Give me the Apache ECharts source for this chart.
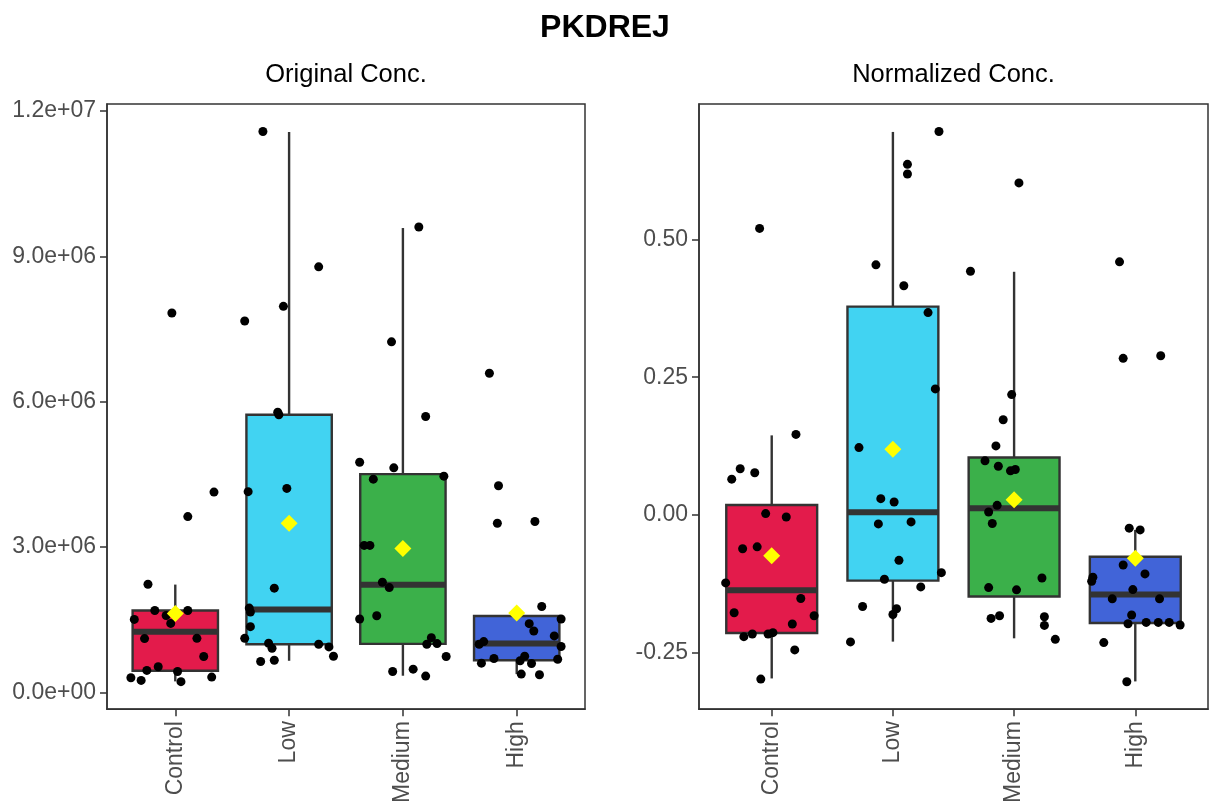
<!DOCTYPE html>
<html>
<head>
<meta charset="utf-8">
<script src="https://cdn.jsdelivr.net/npm/echarts@6/dist/echarts.min.js"></script>
<style>html,body{margin:0;padding:0;background:#fff;}#chart{width:1210px;height:806px;}</style>
</head>
<body>
<div id="chart"></div>
<script>
// ---------------- DATA ----------------
const categories = ['Control', 'Low', 'Medium', 'High'];
const mainTitle = 'PKDREJ';
const leftTitle = 'Original Conc.';
const rightTitle = 'Normalized Conc.';
const leftTicks = [0, 3e6, 6e6, 9e6, 12e6];
const rightTicks = [-0.25, 0, 0.25, 0.5];

// Original concentration: individual points
const origControl = [7.83e6, 4.133e6, 3.628e6, 2.232e6, 1.69e6, 1.69e6, 1.587e6, 1.423e6, 1.505e6, 1.109e6, 1.115e6, 0.739e6, 0.528e6, 0.452e6, 0.431e6, 0.302e6, 0.246e6, 0.22e6, 0.314e6];
const origControlJitter = [-0.03, 0.34, 0.11, -0.24, -0.18, 0.11, -0.08, -0.04, -0.36, -0.27, 0.19, 0.25, -0.15, -0.25, 0.02, -0.39, -0.30, 0.05, 0.32];
const origLow = [11.575e6, 8.782e6, 7.967e6, 7.665e6, 5.78e6, 5.729e6, 4.209e6, 4.142e6, 2.15e6, 1.739e6, 1.657e6, 1.355e6, 1.115e6, 1.012e6, 0.91e6, 0.992e6, 0.938e6, 0.745e6, 0.637e6, 0.663e6];
const origLowJitter = [-0.23, 0.26, -0.05, -0.39, -0.10, -0.09, -0.02, -0.36, -0.13, -0.35, -0.34, -0.34, -0.39, -0.18, -0.15, 0.26, 0.35, 0.39, -0.25, -0.13];
const origMedium = [9.604e6, 7.234e6, 5.694e6, 4.749e6, 4.634e6, 4.4e6, 4.462e6, 3.033e6, 3.033e6, 2.273e6, 2.162e6, 1.513e6, 1.581e6, 1.129e6, 0.992e6, 1.006e6, 0.739e6, 0.431e6, 0.478e6, 0.335e6];
const origMediumJitter = [0.14, -0.10, 0.20, -0.38, -0.08, -0.26, 0.36, -0.34, -0.29, -0.18, -0.12, -0.38, -0.23, 0.25, 0.21, 0.30, 0.38, -0.09, 0.09, 0.20];
const origHigh = [6.585e6, 4.265e6, 3.491e6, 3.526e6, 1.772e6, 1.417e6, 1.267e6, 1.513e6, 1.164e6, 0.992e6, 1.047e6, 0.945e6, 0.698e6, 0.602e6, 0.651e6, 0.745e6, 0.595e6, 0.684e6, 0.376e6, 0.363e6];
const origHighJitter = [-0.24, -0.16, -0.17, 0.16, 0.22, 0.11, 0.15, 0.39, 0.33, -0.33, -0.29, 0.39, -0.20, -0.31, 0.03, 0.07, 0.13, 0.36, 0.04, 0.20];

// Original concentration: box statistics [lower whisker, Q1, median, Q3, upper whisker]
const origBoxControl = [0.226e6, 0.446e6, 1.253e6, 1.69e6, 2.224e6];
const origBoxLow = [0.651e6, 0.992e6, 1.71e6, 5.729e6, 11.567e6];
const origBoxMedium = [0.343e6, 1.0e6, 2.218e6, 4.503e6, 9.583e6];
const origBoxHigh = [0.376e6, 0.663e6, 1.006e6, 1.575e6, 1.772e6];
const origMeans = [1.628e6, 3.491e6, 2.971e6, 1.637e6];

// Normalized concentration: individual points
const normControl = [0.5199, 0.1462, 0.0838, 0.065, 0.0765, 0.0025, -0.0036, -0.0614, -0.0578, -0.1233, -0.1516, -0.1774, -0.1829, -0.1978, -0.2208, -0.2159, -0.2159, -0.2135, -0.2448, -0.2978];
const normControlJitter = [-0.10, 0.20, -0.26, -0.33, -0.14, -0.05, 0.12, -0.24, -0.12, -0.38, 0.24, -0.31, 0.35, 0.17, -0.23, -0.16, -0.03, 0.01, 0.19, -0.09];
const normLow = [0.6957, 0.6361, 0.6186, 0.4538, 0.4159, 0.3671, 0.2287, 0.1222, 0.0296, 0.0235, -0.0162, -0.0126, -0.0823, -0.1047, -0.1166, -0.1305, -0.1661, -0.1702, -0.1805, -0.2303];
const normLowJitter = [0.38, 0.12, 0.12, -0.14, 0.09, 0.29, 0.35, -0.28, -0.10, 0.01, -0.12, 0.15, 0.05, 0.40, -0.07, 0.23, -0.25, 0.03, 0.00, -0.35];
const normMedium = [0.6024, 0.4422, 0.2184, 0.1727, 0.1253, 0.0982, 0.0884, 0.0801, 0.0825, 0.0175, 0.0054, -0.0155, -0.1143, -0.1318, -0.1359, -0.1877, -0.1829, -0.1847, -0.2004, -0.2256];
const normMediumJitter = [0.04, -0.36, -0.02, -0.09, -0.15, -0.24, -0.13, -0.03, 0.01, -0.14, -0.21, -0.18, 0.23, -0.21, 0.02, -0.19, -0.12, 0.25, 0.25, 0.34];
const normHigh = [0.4592, 0.2841, 0.2888, -0.024, -0.0271, -0.0908, -0.107, -0.113, -0.1202, -0.1354, -0.1522, -0.1522, -0.1816, -0.1973, -0.1949, -0.1949, -0.1949, -0.1996, -0.2316, -0.3025];
const normHighJitter = [-0.13, -0.10, 0.21, -0.05, 0.04, -0.10, 0.08, -0.35, -0.36, -0.02, -0.19, 0.20, -0.03, -0.06, 0.09, 0.19, 0.28, 0.37, -0.26, -0.07];

// Normalized concentration: box statistics
const normBoxControl = [-0.2966, -0.2141, -0.1365, 0.0181, 0.1444];
const normBoxLow = [-0.2298, -0.1191, 0.0049, 0.378, 0.6949];
const normBoxMedium = [-0.2238, -0.148, 0.0121, 0.1042, 0.4412];
const normBoxHigh = [-0.302, -0.196, -0.1444, -0.0758, -0.0271];
const normMeans = [-0.074, 0.1191, 0.0278, -0.0787];

// ---------------- STYLE ----------------
const fillColors = ['#E31B4B', '#41D3F2', '#3BB04A', '#4164D8'];
const FONT = "'Liberation Sans', Arial, sans-serif";
const INK = '#333333';

function sci(v) {
  const s = Number(v).toExponential(1);
  const parts = s.split('e');
  let exp = parts[1];
  const sign = exp[0] === '-' ? '-' : '+';
  let digits = exp.replace(/[+-]/, '');
  if (digits.length < 2) digits = '0' + digits;
  return parts[0] + 'e' + sign + digits;
}

function pointsData(values, jitters, catIndex) {
  return values.map((v, i) => [catIndex + 1 + jitters[i], v]);
}

function boxSeries(stats, gridIdx) {
  return {
    type: 'custom',
    xAxisIndex: gridIdx, yAxisIndex: gridIdx,
    z: 1,
    encode: { x: 0, y: [1, 2, 3, 4, 5] },
    data: stats.map((s, i) => [i + 1].concat(s)),
    renderItem: function (params, api) {
      const x = api.value(0);
      const lo = api.coord([x, api.value(1)]);
      const q1 = api.coord([x, api.value(2)]);
      const md = api.coord([x, api.value(3)]);
      const q3 = api.coord([x, api.value(4)]);
      const hi = api.coord([x, api.value(5)]);
      const w = api.size([0.75, 0])[0];
      const half = w / 2;
      return {
        type: 'group',
        children: [
          { type: 'line', shape: { x1: lo[0], y1: lo[1], x2: q1[0], y2: q1[1] }, style: { stroke: INK, lineWidth: 2.4 } },
          { type: 'line', shape: { x1: q3[0], y1: q3[1], x2: hi[0], y2: hi[1] }, style: { stroke: INK, lineWidth: 2.4 } },
          { type: 'rect', shape: { x: q3[0] - half, y: q3[1], width: w, height: q1[1] - q3[1] }, style: { fill: fillColors[params.dataIndex], stroke: INK, lineWidth: 2.4 } },
          { type: 'line', shape: { x1: md[0] - half, y1: md[1], x2: md[0] + half, y2: md[1] }, style: { stroke: INK, lineWidth: 6 } }
        ]
      };
    }
  };
}

function scatterSeries(data, gridIdx) {
  return {
    type: 'scatter', xAxisIndex: gridIdx, yAxisIndex: gridIdx, z: 3,
    symbol: 'circle', symbolSize: 9, itemStyle: { color: '#000', opacity: 1 },
    data: data, silent: true, animation: false
  };
}

function meanSeries(means, gridIdx) {
  return {
    type: 'scatter', xAxisIndex: gridIdx, yAxisIndex: gridIdx, z: 4,
    symbol: 'diamond', symbolSize: [17, 17], itemStyle: { color: '#FFFF00', opacity: 1 },
    data: means.map((m, i) => [i + 1, m]), silent: true, animation: false
  };
}

function xAxisCfg(gridIdx) {
  return {
    type: 'value', gridIndex: gridIdx, min: 0.4, max: 4.6,
    axisLine: { show: true, onZero: false, lineStyle: { color: INK, width: 1.5 } },
    axisTick: { show: true, inside: false, customValues: [1, 2, 3, 4], length: 7, lineStyle: { color: INK, width: 1.5 } },
    axisLabel: { customValues: [1, 2, 3, 4], rotate: 90, margin: 12, fontSize: 23, color: '#4D4D4D', fontFamily: FONT,
      formatter: function (v) { return categories[Math.round(v) - 1]; } },
    splitLine: { show: false }
  };
}

function yAxisCfg(gridIdx, min, max, ticks, fmt) {
  return {
    type: 'value', gridIndex: gridIdx, min: min, max: max,
    axisLine: { show: true, onZero: false, lineStyle: { color: INK, width: 1.5 } },
    axisTick: { show: true, inside: false, customValues: ticks, length: 7, lineStyle: { color: INK, width: 1.5 } },
    axisLabel: { customValues: ticks, margin: 11, fontSize: 23, color: '#4D4D4D', fontFamily: FONT, formatter: fmt },
    splitLine: { show: false }
  };
}

const chart = echarts.init(document.getElementById('chart'), null, { renderer: 'canvas' });
const option = {
  animation: false,
  backgroundColor: '#ffffff',
  title: {
    text: mainTitle, left: 'center', top: 7,
    textStyle: { fontFamily: FONT, fontWeight: 'bold', fontSize: 32, color: '#000' }
  },
  graphic: [
    { type: 'text', x: 346, y: 75, style: { text: leftTitle, fontFamily: FONT, fontSize: 25.5, fill: '#000', textAlign: 'center', textVerticalAlign: 'middle' } },
    { type: 'text', x: 953.5, y: 75, style: { text: rightTitle, fontFamily: FONT, fontSize: 25.5, fill: '#000', textAlign: 'center', textVerticalAlign: 'middle' } }
  ],
  grid: [
    { left: 107, top: 104, width: 478, height: 608, show: true, borderColor: INK, borderWidth: 1.5, backgroundColor: '#fff' },
    { left: 699, top: 104, width: 509, height: 608, show: true, borderColor: INK, borderWidth: 1.5, backgroundColor: '#fff' }
  ],
  xAxis: [xAxisCfg(0), xAxisCfg(1)],
  yAxis: [
    yAxisCfg(0, -0.348e6, 12.143e6, leftTicks, sci),
    yAxisCfg(1, -0.3524, 0.7456, rightTicks, function (v) { return Number(v).toFixed(2); })
  ],
  series: [
    boxSeries([origBoxControl, origBoxLow, origBoxMedium, origBoxHigh], 0),
    scatterSeries([].concat(
      pointsData(origControl, origControlJitter, 0),
      pointsData(origLow, origLowJitter, 1),
      pointsData(origMedium, origMediumJitter, 2),
      pointsData(origHigh, origHighJitter, 3)), 0),
    meanSeries(origMeans, 0),
    boxSeries([normBoxControl, normBoxLow, normBoxMedium, normBoxHigh], 1),
    scatterSeries([].concat(
      pointsData(normControl, normControlJitter, 0),
      pointsData(normLow, normLowJitter, 1),
      pointsData(normMedium, normMediumJitter, 2),
      pointsData(normHigh, normHighJitter, 3)), 1),
    meanSeries(normMeans, 1)
  ]
};
chart.setOption(option);
</script>
</body>
</html>
